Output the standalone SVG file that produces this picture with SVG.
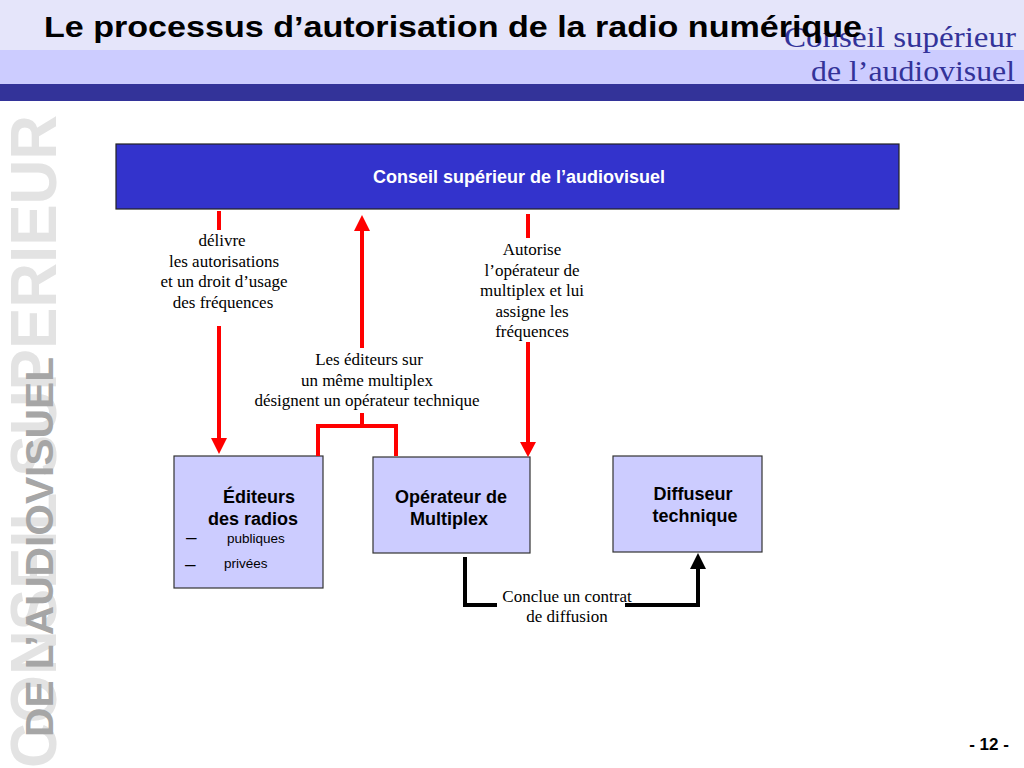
<svg xmlns="http://www.w3.org/2000/svg" width="1024" height="768" viewBox="0 0 1024 768">
<defs>
<style>
.serif{font-family:"Liberation Serif","Times New Roman",serif;font-size:17px;fill:#000;text-anchor:middle}
.box{fill:#CCCCFF;stroke:#333;stroke-width:1.2}
.bt{font-family:"Liberation Sans",Arial,sans-serif;font-weight:bold;font-size:18px;fill:#000;text-anchor:middle}
.sm{font-family:"Liberation Sans",Arial,sans-serif;font-size:13.5px;fill:#000}
.dash{font-family:"Liberation Sans",Arial,sans-serif;font-size:19px;fill:#000}
.red{stroke:#FF0000;stroke-width:4;fill:none}
.blk{stroke:#000;stroke-width:4;fill:none}
</style>
</defs>
<rect x="0" y="0" width="1024" height="768" fill="#fff"/>
<g id="header">
<rect x="0" y="0" width="1024" height="50" fill="#E5E5FA"/>
<rect x="0" y="50" width="1024" height="34" fill="#CCCCFF"/>
<rect x="0" y="84" width="1024" height="17" fill="#333399"/>
<text x="784" y="47" font-family="Liberation Serif,'Times New Roman',serif" font-size="29" fill="#333399" textLength="232" lengthAdjust="spacingAndGlyphs">Conseil supérieur</text>
<text x="811" y="81" font-family="Liberation Serif,'Times New Roman',serif" font-size="29" fill="#333399" textLength="204" lengthAdjust="spacingAndGlyphs">de l’audiovisuel</text>
<text x="44" y="37" font-family="Liberation Sans,Arial,sans-serif" font-weight="bold" font-size="29" fill="#000" textLength="818" lengthAdjust="spacingAndGlyphs">Le processus d’autorisation de la radio numérique</text>
</g>
<g id="watermark">
<text transform="translate(56,768) rotate(-90)" font-family="Liberation Sans,Arial,sans-serif" font-weight="bold" font-size="65" fill="#E3E3E3" textLength="653" lengthAdjust="spacingAndGlyphs">CONSEIL SUPERIEUR</text>
<text transform="translate(53,737) rotate(-90)" font-family="Liberation Sans,Arial,sans-serif" font-weight="bold" font-size="39" fill="#A6A6A6" textLength="380" lengthAdjust="spacingAndGlyphs">DE L’AUDIOVISUEL</text>
</g>
<g id="csa">
<rect x="116" y="144" width="783" height="65" fill="#3333CC" stroke="#222" stroke-width="1.2"/>
<text x="519" y="183" font-family="Liberation Sans,Arial,sans-serif" font-weight="bold" font-size="18" fill="#fff" text-anchor="middle">Conseil supérieur de l’audiovisuel</text>
</g>
<g id="editeurs">
<rect class="box" x="174" y="456" width="149" height="132"/>
<text class="bt" x="259" y="503">Éditeurs</text>
<text class="bt" x="253" y="525">des radios</text>
<text class="dash" x="186" y="543">–</text>
<text class="sm" x="227" y="543">publiques</text>
<text class="dash" x="185" y="570">–</text>
<text class="sm" x="224" y="568">privées</text>
</g>
<g id="operateur">
<rect class="box" x="373" y="457" width="157" height="96"/>
<text class="bt" x="451" y="503">Opérateur de</text>
<text class="bt" x="449" y="525">Multiplex</text>
</g>
<g id="diffuseur">
<rect class="box" x="613" y="456" width="149" height="96"/>
<text class="bt" x="693" y="500">Diffuseur</text>
<text class="bt" x="695" y="522">technique</text>
</g>
<g id="connectors">
<line class="red" x1="219" y1="211" x2="219" y2="230"/>
<line class="red" x1="219" y1="326" x2="219" y2="440"/>
<polygon points="211,438 227,438 219,454" fill="#FF0000"/>
<line class="red" x1="362" y1="228" x2="362" y2="348"/>
<polygon points="354,231 370,231 362,215" fill="#FF0000"/>
<polyline class="red" points="362,413 362,426"/>
<polyline class="red" points="318,456 318,426 396,426 396,456"/>
<line class="red" x1="528" y1="214" x2="528" y2="238"/>
<line class="red" x1="528" y1="342" x2="528" y2="444"/>
<polygon points="520,442 536,442 528,457" fill="#FF0000"/>
<polyline class="blk" points="465,557 465,605 497,605"/>
<polyline class="blk" points="625,605 698,605 698,566"/>
<polygon points="690,569 706,569 698,553" fill="#000"/>
</g>
<g id="labels">
<text class="serif" x="222" y="246">délivre</text>
<text class="serif" x="224" y="267">les autorisations</text>
<text class="serif" x="224" y="287">et un droit d’usage</text>
<text class="serif" x="223" y="308">des fréquences</text>
<text class="serif" x="532" y="255">Autorise</text>
<text class="serif" x="532" y="276">l’opérateur de</text>
<text class="serif" x="532" y="296">multiplex et lui</text>
<text class="serif" x="532" y="317">assigne les</text>
<text class="serif" x="532" y="337">fréquences</text>
<text class="serif" x="369" y="365">Les éditeurs sur</text>
<text class="serif" x="367" y="386">un même multiplex</text>
<text class="serif" x="367" y="406">désignent un opérateur technique</text>
<text class="serif" x="567" y="602">Conclue un contrat</text>
<text class="serif" x="567" y="622">de diffusion</text>
</g>
<text x="989" y="750" font-family="Liberation Sans,Arial,sans-serif" font-weight="bold" font-size="17" fill="#000" text-anchor="middle">- 12 -</text>
</svg>
